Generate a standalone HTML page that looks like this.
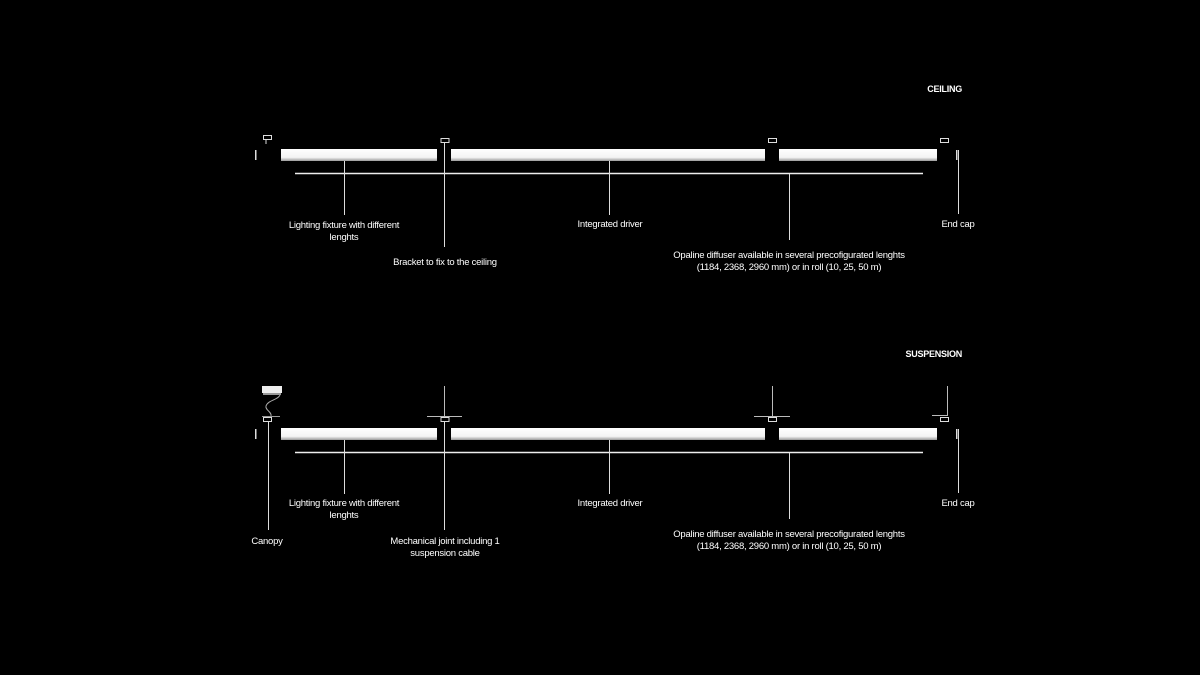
<!DOCTYPE html>
<html><head><meta charset="utf-8"><style>
html,body{margin:0;padding:0;background:#000;}
svg{display:block}
text{font-family:"Liberation Sans",sans-serif;font-size:9.5px;fill:#fff;letter-spacing:-0.25px}
</style></head><body>
<svg width="1200" height="675" viewBox="0 0 1200 675">
<defs>
<linearGradient id="bar" x1="0" y1="0" x2="0" y2="1">
<stop offset="0" stop-color="#fff"/><stop offset="0.7" stop-color="#f4f4f4"/><stop offset="1" stop-color="#9a9a9a"/>
</linearGradient>
<g id="fix">
<rect x="281" y="149" width="156" height="12" fill="url(#bar)"/>
<rect x="451" y="149" width="314" height="12" fill="url(#bar)"/>
<rect x="779" y="149" width="158" height="12" fill="url(#bar)"/>
<line x1="295" y1="173.5" x2="923" y2="173.5" stroke="#eee" stroke-width="1.5"/>
<rect x="255" y="150" width="1.5" height="10" fill="#ddd"/>
<rect x="956" y="150" width="1.5" height="10" fill="#ddd"/>
<g fill="none" stroke="#ddd" stroke-width="1">
<rect x="441" y="138.5" width="8" height="4"/>
<rect x="768.5" y="138.5" width="8" height="4"/>
<rect x="940.5" y="138.5" width="8" height="4"/>
</g>
<g stroke="#ddd" stroke-width="1">
<line x1="344.5" y1="161" x2="344.5" y2="215"/>
<line x1="609.5" y1="161" x2="609.5" y2="215"/>
<line x1="789.5" y1="174" x2="789.5" y2="240"/>
</g>
</g>
</defs>
<!-- CEILING -->
<text x="962" y="92" text-anchor="end" style="font-weight:bold;font-size:9px">CEILING</text>
<use href="#fix"/>
<rect x="263.5" y="135.5" width="8" height="4" fill="none" stroke="#ddd"/>
<line x1="266" y1="140" x2="266" y2="144" stroke="#ddd"/>
<line x1="444.5" y1="143" x2="444.5" y2="247" stroke="#ddd"/>
<line x1="958.5" y1="150" x2="958.5" y2="214" stroke="#ddd"/>
<text x="344" y="228" text-anchor="middle">Lighting fixture with different</text>
<text x="344" y="240" text-anchor="middle">lenghts</text>
<text x="445" y="265" text-anchor="middle">Bracket to fix to the ceiling</text>
<text x="610" y="227" text-anchor="middle">Integrated driver</text>
<text x="958" y="227" text-anchor="middle">End cap</text>
<text x="789" y="258" text-anchor="middle">Opaline diffuser available in several precofigurated lenghts</text>
<text x="789" y="270" text-anchor="middle">(1184, 2368, 2960 mm) or in roll (10, 25, 50 m)</text>

<!-- SUSPENSION -->
<text x="962" y="357" text-anchor="end" style="font-weight:bold;font-size:9px">SUSPENSION</text>
<g transform="translate(0,279)"><use href="#fix"/></g>
<rect x="262" y="386" width="20" height="7" fill="#eee"/>
<rect x="263" y="393" width="18" height="2" fill="#999"/>
<path d="M280 395 C278 400,268 400,266 406 C265 410,272 412,271 416" stroke="#aaa" fill="none"/>
<line x1="262" y1="416.5" x2="280" y2="416.5" stroke="#999"/>
<rect x="263.5" y="417.5" width="8" height="4" fill="none" stroke="#ddd"/>
<line x1="268.5" y1="422" x2="268.5" y2="530" stroke="#ddd"/>
<g stroke="#bbb">
<line x1="444.5" y1="386" x2="444.5" y2="416"/>
<line x1="427" y1="416.5" x2="462" y2="416.5"/>
<line x1="772.5" y1="386" x2="772.5" y2="416"/>
<line x1="754" y1="416.5" x2="790" y2="416.5"/>
<line x1="947.5" y1="386" x2="947.5" y2="416"/>
<line x1="932" y1="415.5" x2="947" y2="415.5"/>
</g>
<line x1="444.5" y1="422" x2="444.5" y2="530" stroke="#ddd"/>
<line x1="958.5" y1="429" x2="958.5" y2="493" stroke="#ddd"/>
<text x="344" y="506" text-anchor="middle">Lighting fixture with different</text>
<text x="344" y="518" text-anchor="middle">lenghts</text>
<text x="267" y="544" text-anchor="middle">Canopy</text>
<text x="445" y="544" text-anchor="middle">Mechanical joint including 1</text>
<text x="445" y="556" text-anchor="middle">suspension cable</text>
<text x="610" y="506" text-anchor="middle">Integrated driver</text>
<text x="958" y="506" text-anchor="middle">End cap</text>
<text x="789" y="537" text-anchor="middle">Opaline diffuser available in several precofigurated lenghts</text>
<text x="789" y="549" text-anchor="middle">(1184, 2368, 2960 mm) or in roll (10, 25, 50 m)</text>
</svg>
</body></html>
